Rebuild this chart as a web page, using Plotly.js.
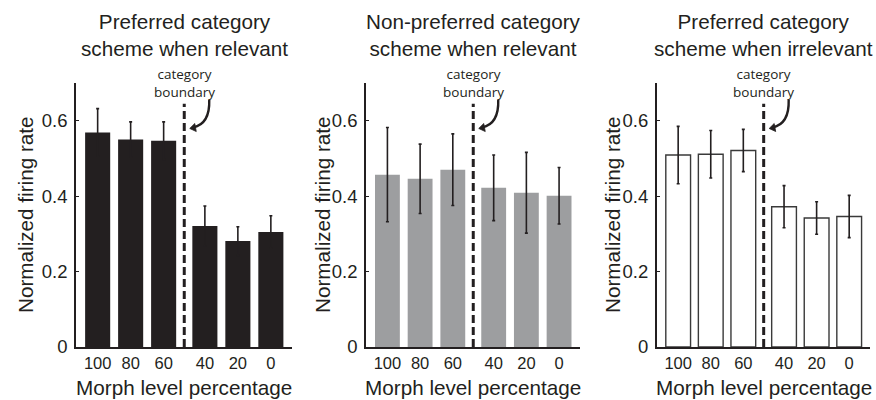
<!DOCTYPE html>
<html>
<head>
<meta charset="utf-8">
<script src="https://cdn.plot.ly/plotly-3.0.1.min.js"></script>
<style>
  html, body { margin: 0; padding: 0; background: #ffffff; }
  #chart { width: 876px; height: 400px; }
</style>
</head>
<body>
<div id="chart"></div>
<script>
// Morph levels, from one category prototype (100%) to the other (0%)
const morphLabels = ["100", "80", "60", "40", "20", "0"];

// Panel titles
const panelTitles = [
  "Preferred category<br>scheme when relevant",
  "Non-preferred category<br>scheme when relevant",
  "Preferred category<br>scheme when irrelevant"
];

// Mean normalized firing rate and its error, per morph level
const prefRelevantRate   = [0.569, 0.550, 0.547, 0.321, 0.281, 0.305];
const prefRelevantErr    = [0.063, 0.047, 0.050, 0.053, 0.038, 0.043];

const nonPrefRelevantRate = [0.457, 0.446, 0.470, 0.422, 0.409, 0.401];
const nonPrefRelevantErr  = [0.125, 0.092, 0.095, 0.087, 0.107, 0.075];

const prefIrrelevantRate = [0.509, 0.511, 0.521, 0.372, 0.342, 0.346];
const prefIrrelevantErr  = [0.076, 0.063, 0.056, 0.056, 0.043, 0.056];

const yTickVals = [0, 0.2, 0.4, 0.6];
const yTickText = ["0", "0.2", "0.4", "0.6"];

// ---- layout constants ----
const W = 876, H = 400;
const INK = "#231f20";
const MAIN_FONT = "'Liberation Sans', Arial, sans-serif";
const NOTE_FONT = "'Open Sans', 'Noto Sans', sans-serif";
const LABEL_SIZE = 20.7;

const BOUNDARY_GAP = 0.25;          // extra space at the category boundary
const X_RANGE = [0.35, 6.89];
const Y_RANGE = [0, 0.7];
const Y_DOMAIN = [0.1325, 0.7925];
const X_DOMAINS = [[0.0870, 0.3333], [0.4180, 0.6621], [0.7500, 0.9932]];
const Y_TITLE_X = [25, 322, 612];    // px centres of the y-axis titles

// bar positions: one unit apart, with a wider gap between 60 and 40
const xPos = morphLabels.map((_, i) => i + 1 + (i >= 3 ? BOUNDARY_GAP : 0));
const boundaryX = (xPos[2] + xPos[3]) / 2;

const panels = [
  { rate: prefRelevantRate, err: prefRelevantErr, fill: INK, edge: INK, edgeW: 0 },
  { rate: nonPrefRelevantRate, err: nonPrefRelevantErr, fill: "#9d9ea0", edge: "#9d9ea0", edgeW: 0 },
  { rate: prefIrrelevantRate, err: prefIrrelevantErr, fill: "#ffffff", edge: "#3a3a3a", edgeW: 1.4 }
];

const data = [];
const layout = {
  width: W, height: H,
  margin: { l: 0, r: 0, t: 0, b: 0 },
  paper_bgcolor: "#ffffff",
  plot_bgcolor: "rgba(0,0,0,0)",
  showlegend: false,
  annotations: [],
  shapes: []
};

panels.forEach((p, k) => {
  const n = k + 1;
  const xa = n === 1 ? "x" : "x" + n;
  const ya = n === 1 ? "y" : "y" + n;
  const xKey = n === 1 ? "xaxis" : "xaxis" + n;
  const yKey = n === 1 ? "yaxis" : "yaxis" + n;

  data.push({
    type: "bar",
    x: xPos,
    y: p.rate,
    width: 0.76,
    xaxis: xa, yaxis: ya,
    marker: { color: p.fill, line: { color: p.edge, width: p.edgeW } },
    error_y: { type: "data", array: p.err, visible: true, color: INK, thickness: 1.6, width: 1.5 },
    hoverinfo: "skip"
  });

  layout[xKey] = {
    domain: X_DOMAINS[k],
    anchor: ya,
    range: X_RANGE,
    tickmode: "array",
    tickvals: xPos,
    ticktext: morphLabels,
    ticks: "",
    ticklabelstandoff: 0,
    tickfont: { family: MAIN_FONT, size: 16.5, color: INK },
    showgrid: false, zeroline: false,
    showline: true, linecolor: INK, linewidth: 2,
    fixedrange: true
  };
  layout[yKey] = {
    domain: Y_DOMAIN,
    anchor: xa,
    range: Y_RANGE,
    tickmode: "array",
    tickvals: yTickVals,
    ticktext: yTickText,
    ticks: "inside", ticklen: 3, tickwidth: 1, tickcolor: INK,
    ticklabelstandoff: 3,
    tickfont: { family: MAIN_FONT, size: 18.5, color: INK },
    showgrid: false, zeroline: false,
    showline: true, linecolor: INK, linewidth: 2,
    fixedrange: true
  };

  const dom = X_DOMAINS[k];
  const centreX = (dom[0] + dom[1]) / 2;

  // panel title
  layout.annotations.push({
    xref: "paper", yref: "paper", x: centreX, y: 1 - 35 / H,
    xanchor: "center", yanchor: "middle", showarrow: false,
    text: panelTitles[k],
    font: { family: MAIN_FONT, size: LABEL_SIZE, color: INK }
  });
  // x-axis title
  layout.annotations.push({
    xref: "paper", yref: "paper", x: centreX, y: 0,
    xanchor: "center", yanchor: "bottom", showarrow: false,
    borderpad: 0,
    text: "Morph level percentage",
    font: { family: MAIN_FONT, size: LABEL_SIZE, color: INK }
  });
  // y-axis title
  layout.annotations.push({
    xref: "paper", yref: "paper", x: Y_TITLE_X[k] / W, y: 1 - 215 / H,
    xanchor: "center", yanchor: "middle", showarrow: false, textangle: -90,
    text: "Normalized firing rate",
    font: { family: MAIN_FONT, size: LABEL_SIZE, color: INK }
  });
  // boundary label
  layout.annotations.push({
    xref: xa, yref: ya, x: boundaryX, y: Y_RANGE[1],
    xanchor: "center", yanchor: "middle", showarrow: false,
    text: "category<br>boundary",
    font: { family: NOTE_FONT, size: 13.5, color: INK }
  });

  // dashed category boundary
  layout.shapes.push({
    type: "line", xref: xa, yref: ya,
    x0: boundaryX, x1: boundaryX, y0: 0, y1: 0.645,
    line: { color: INK, width: 3, dash: "8px,4px" }
  });

  // curved arrow: offsets in px from (boundary, top of axis), +y is downward
  const axisWpx = (dom[1] - dom[0]) * W;
  const axisHpx = (Y_DOMAIN[1] - Y_DOMAIN[0]) * H;
  const ux = (X_RANGE[1] - X_RANGE[0]) / axisWpx;
  const uy = (Y_RANGE[1] - Y_RANGE[0]) / axisHpx;
  const P = (dx, dy) => (boundaryX + dx * ux).toFixed(4) + "," + (Y_RANGE[1] - dy * uy).toFixed(4);

  layout.shapes.push({
    type: "path", xref: xa, yref: ya,
    path: "M " + P(25, 17) + " C " + P(25.5, 33) + " " + P(20, 42) + " " + P(9, 44.5),
    line: { color: INK, width: 2.4 }
  });
  layout.shapes.push({
    type: "path", xref: xa, yref: ya,
    path: "M " + P(5.5, 45.5) + " L " + P(10.5, 40.5) + " L " + P(12, 48.5) + " Z",
    fillcolor: INK,
    line: { color: INK, width: 0.8 }
  });
});

Plotly.newPlot("chart", data, layout, { staticPlot: true, displayModeBar: false });
</script>
</body>
</html>
